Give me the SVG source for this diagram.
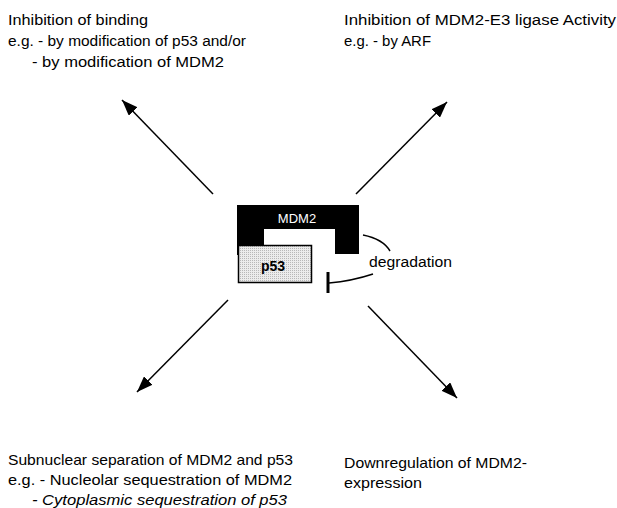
<svg xmlns="http://www.w3.org/2000/svg" width="617" height="508" viewBox="0 0 617 508">
<style>
.t{font-family:"Liberation Sans","DejaVu Sans",sans-serif;font-size:14px;fill:#000}
.b{font-size:15px}
.i{font-style:italic}
.c{stroke:#000;stroke-width:1.5;fill:none}
</style>
<defs>
<marker id="ah" markerUnits="userSpaceOnUse" markerWidth="18" markerHeight="12" refX="16" refY="6" orient="auto">
<path d="M0,0 L16,6 L0,12 Z" fill="#000"/>
</marker>
<pattern id="dots" width="2" height="2" patternUnits="userSpaceOnUse">
<rect width="2" height="2" fill="#ececec"/>
<rect width="1" height="1" fill="#b8b8b8"/>
</pattern>
</defs>
<rect width="617" height="508" fill="#fff"/>
<g id="connectors">
<line class="c" x1="213" y1="194" x2="122" y2="100" marker-end="url(#ah)"/>
<line class="c" x1="356" y1="194" x2="447" y2="102" marker-end="url(#ah)"/>
<line class="c" x1="228" y1="300" x2="137" y2="392" marker-end="url(#ah)"/>
<line class="c" x1="368" y1="306" x2="457" y2="398" marker-end="url(#ah)"/>
<path class="c" d="M363,235 Q383,239 390,251"/>
<path class="c" d="M329,283 Q352,281 373,274"/>
<line x1="328" y1="272" x2="328" y2="293" stroke="#000" stroke-width="3"/>
</g>
<g id="mdm2">
<path d="M237,205 H359 V254 H335 V229 H264 V255 H237 Z" fill="#000"/>
<text x="297" y="223" text-anchor="middle" font-family="Liberation Sans, sans-serif" font-size="13" fill="#fff">MDM2</text>
</g>
<g id="p53">
<rect x="238.5" y="245.5" width="73" height="37" fill="url(#dots)" stroke="#000" stroke-width="1.5"/>
<text x="273" y="271" text-anchor="middle" font-family="Liberation Sans, sans-serif" font-size="14" font-weight="bold" fill="#000">p53</text>
</g>
<g id="degradation">
<text class="t" x="369" y="267" textLength="83" lengthAdjust="spacingAndGlyphs">degradation</text>
</g>
<g id="inhibition-binding">
<text class="t" x="8" y="25" textLength="140" lengthAdjust="spacingAndGlyphs">Inhibition of binding</text>
<text class="t" x="8" y="46" textLength="238" lengthAdjust="spacingAndGlyphs">e.g. - by modification of p53 and/or</text>
<text class="t" x="32" y="67" textLength="192" lengthAdjust="spacingAndGlyphs">- by modification of MDM2</text>
</g>
<g id="inhibition-ligase">
<text class="t" x="344" y="25" textLength="272" lengthAdjust="spacingAndGlyphs">Inhibition of MDM2-E3 ligase Activity</text>
<text class="t" x="344" y="46" textLength="87" lengthAdjust="spacingAndGlyphs">e.g. - by ARF</text>
</g>
<g id="subnuclear">
<text class="t b" x="8" y="465" textLength="285" lengthAdjust="spacingAndGlyphs">Subnuclear separation of MDM2 and p53</text>
<text class="t b" x="8" y="485" textLength="284" lengthAdjust="spacingAndGlyphs">e.g. - Nucleolar sequestration of MDM2</text>
<text class="t b i" x="32" y="505" textLength="255" lengthAdjust="spacingAndGlyphs">- Cytoplasmic sequestration of p53</text>
</g>
<g id="downregulation">
<text class="t b" x="344" y="468" textLength="183" lengthAdjust="spacingAndGlyphs">Downregulation of MDM2-</text>
<text class="t b" x="344" y="488" textLength="78" lengthAdjust="spacingAndGlyphs">expression</text>
</g>
</svg>
